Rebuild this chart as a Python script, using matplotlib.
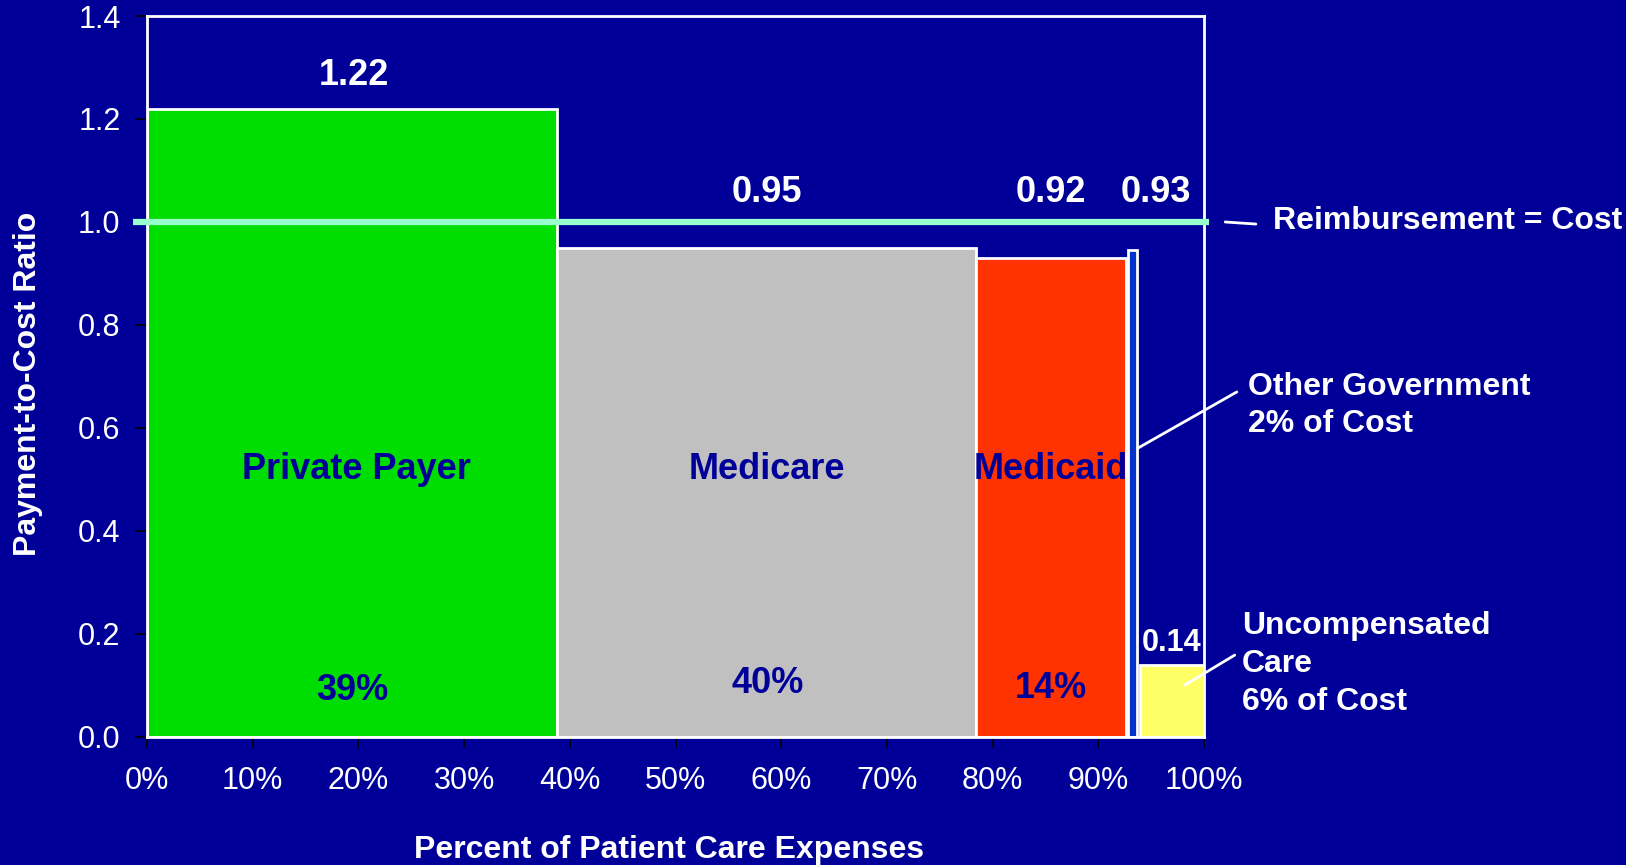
import numpy as np
import matplotlib.pyplot as plt

plt.rcParams['font.family'] = ['Liberation Sans', 'DejaVu Sans']

# payer segments, x in percent of patient care expenses
payers = ['Private Payer', 'Medicare', 'Medicaid', 'Other Government', 'Uncompensated Care']
seg_left = [0.0, 38.8, 78.4, 92.8, 93.9]
seg_right = [38.8, 78.4, 92.6, 93.7, 100.0]
ratio = [1.22, 0.95, 0.93, 0.945, 0.14]
ratio_labels = ['1.22', '0.95', '0.92', '0.93', '0.14']
share_labels = ['39%', '40%', '14%']
colors = ['#00DD00', '#C0C0C0', '#FF3300', '#0033CC', '#FFFF66']

x_ticks = np.arange(0, 101, 10)
y_ticks = [0.0, 0.2, 0.4, 0.6, 0.8, 1.0, 1.2, 1.4]

bg = '#000099'
white = 'white'

fig = plt.figure(figsize=(16.26, 8.65), dpi=100, facecolor=bg)
ax = fig.add_axes([0.0904, 0.148, 0.6501, 0.8335], facecolor=bg)

widths = np.array(seg_right) - np.array(seg_left)
ax.bar(seg_left, ratio, width=widths, align='edge', color=colors,
       edgecolor=white, linewidth=2, zorder=2)

# break-even line
ax.plot([-1.3, 100.5], [1.0, 1.0], color='#99FFCC', lw=4.5, zorder=5,
        clip_on=False, solid_capstyle='butt')

ax.set_xlim(0, 100)
ax.set_ylim(0, 1.4)
ax.set_xticks(x_ticks)
ax.set_xticklabels([f'{t}%' for t in x_ticks])
ax.set_yticks(y_ticks)
ax.set_yticklabels([f'{t:.1f}' for t in y_ticks])
ax.tick_params(axis='x', colors='black', labelcolor=white, labelsize=22,
               length=8, width=1.2, pad=13)
ax.tick_params(axis='y', colors='black', labelcolor=white, labelsize=22,
               length=9, width=1.2, pad=10)
for s in ax.spines.values():
    s.set_color(white)
    s.set_linewidth(2)

# numbers above bars
val_pos = [(19.6, 1.284), (58.6, 1.057), (85.5, 1.057), (95.4, 1.057), (96.9, 0.182)]
val_size = [26, 26, 26, 26, 22]
for (x, y), t, fs in zip(val_pos, ratio_labels, val_size):
    ax.text(x, y, t, color=white, fontsize=fs, fontweight='bold',
            ha='center', va='center', zorder=4)

# names and shares inside bars
name_x = [19.8, 58.6, 85.5]
for x, nm in zip(name_x, payers[:3]):
    ax.text(x, 0.52, nm, color=bg, fontsize=26, fontweight='bold',
            ha='center', va='center', zorder=4)
share_y = [0.09, 0.104, 0.094]
for x, y, sh in zip([19.4, 58.7, 85.5], share_y, share_labels):
    ax.text(x, y, sh, color=bg, fontsize=26, fontweight='bold',
            ha='center', va='center', zorder=4)

# side annotations
ann = dict(annotation_clip=False,
           arrowprops=dict(arrowstyle='-', color=white, lw=2, shrinkA=0, shrinkB=0))
ax.annotate('', xy=(102.0, 1.0), xytext=(104.9, 0.996), **ann)
ax.text(106.5, 1.002, 'Reimbursement = Cost', color=white, fontsize=23,
        fontweight='bold', va='center', ha='left', clip_on=False)
ax.annotate('', xy=(93.75, 0.561), xytext=(103.1, 0.670), **ann)
ax.text(104.2, 0.643, 'Other Government\n2% of Cost', color=white, fontsize=23,
        fontweight='bold', va='center', ha='left', clip_on=False, linespacing=1.3)
ax.annotate('', xy=(98.2, 0.101), xytext=(102.9, 0.159), **ann)
ax.text(103.6, 0.142, 'Uncompensated\nCare\n6% of Cost', color=white, fontsize=23,
        fontweight='bold', va='center', ha='left', clip_on=False, linespacing=1.35)

fig.text(28 / 1626, 1 - 384 / 865, 'Payment-to-Cost Ratio', color=white, fontsize=23,
         fontweight='bold', rotation=90, ha='center', va='center')
fig.text(669 / 1626, 1 - 850 / 865, 'Percent of Patient Care Expenses', color=white,
         fontsize=23, fontweight='bold', ha='center', va='center')

fig.savefig('out.png', dpi=100, facecolor=bg)
